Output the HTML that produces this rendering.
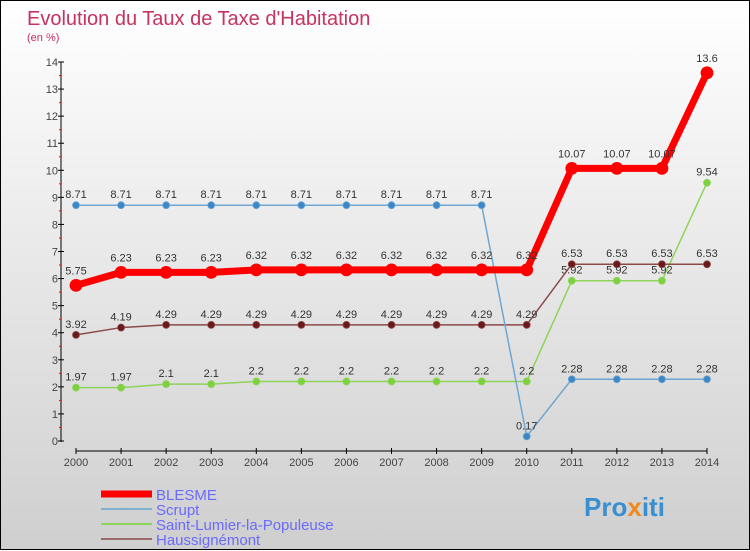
<!DOCTYPE html>
<html><head><meta charset="utf-8"><style>
html,body{margin:0;padding:0}
body{width:750px;height:550px;overflow:hidden;font-family:"Liberation Sans",sans-serif}
#wrap{position:relative;width:748px;height:548px;border:1px solid #000;background:linear-gradient(#ffffff,#cfcfcf)}
svg{position:absolute;left:0;top:0}
</style></head><body>
<div id="wrap">
<svg id="chart" width="750" height="550">
<text x="26" y="24" font-size="20" fill="#c8325f">Evolution du Taux de Taxe d'Habitation</text>
<text x="26" y="40" font-size="11" fill="#c8325f">(en %)</text>
<g id="axes"></g>
<g id="series"></g>
<g id="legend"></g>
<text x="583" y="515" font-size="26" font-weight="bold" fill="#3a8fd0">Pro<tspan fill="#f08a1c">x</tspan>iti</text>
</svg>
</div>
<script>
const years=[2000,2001,2002,2003,2004,2005,2006,2007,2008,2009,2010,2011,2012,2013,2014];
const blesme=[5.75,6.23,6.23,6.23,6.32,6.32,6.32,6.32,6.32,6.32,6.32,10.07,10.07,10.07,13.6];
const scrupt=[8.71,8.71,8.71,8.71,8.71,8.71,8.71,8.71,8.71,8.71,0.17,2.28,2.28,2.28,2.28];
const saint=[1.97,1.97,2.1,2.1,2.2,2.2,2.2,2.2,2.2,2.2,2.2,5.92,5.92,5.92,9.54];
const hauss=[3.92,4.19,4.29,4.29,4.29,4.29,4.29,4.29,4.29,4.29,4.29,6.53,6.53,6.53,6.53];
const yTicks=[0,1,2,3,4,5,6,7,8,9,10,11,12,13,14];
const seriesNames=["BLESME","Scrupt","Saint-Lumier-la-Populeuse","Haussignémont"];
const NS="http://www.w3.org/2000/svg";
const xS=v=>75+(v-2000)*(706-75)/14;
const yS=v=>440-v*(440-61)/14;
function mk(tag,attrs,parent,txt){const e=document.createElementNS(NS,tag);for(const k in attrs)e.setAttribute(k,attrs[k]);if(txt!==undefined)e.textContent=txt;parent.appendChild(e);return e;}
const axes=document.getElementById('axes');
let yl=mk('line',{x1:60,y1:yS(14),x2:60,y2:yS(0)+1,stroke:'#000'},axes);


let xl=mk('line',{x1:75,y1:450,x2:706,y2:450,stroke:'#000'},axes);


yTicks.forEach(t=>{
 mk('line',{x1:57,x2:63,y1:yS(t),y2:yS(t),stroke:'#000'},axes);
 if(t<14)mk('line',{x1:58,x2:60,y1:yS(t+0.5),y2:yS(t+0.5),stroke:'#f00'},axes);
 let tx=mk('text',{x:57,y:yS(t)+4,'font-size':11,'text-anchor':'end',fill:'#444'},axes,String(t));
 
 
});
years.forEach(y=>{
 mk('line',{x1:xS(y),x2:xS(y),y1:447,y2:453,stroke:'#000'},axes);
 let tx=mk('text',{x:xS(y),y:465,'font-size':11,'text-anchor':'middle',fill:'#444'},axes,String(y));
 
 
});
const sg=document.getElementById('series');
function drawSeries(vals,color,dot,w,r,name,lblOff){
 const g=mk('g',{},sg);
 
 
 mk('polyline',{points:vals.map((v,i)=>xS(years[i])+','+yS(v)).join(' '),fill:'none',stroke:color,'stroke-width':w,'stroke-linejoin':'round'},g);
 vals.forEach((v,i)=>{
  let c=mk('circle',{cx:xS(years[i]),cy:yS(v),r:r,fill:dot,stroke:color,'stroke-width':0.8},g);
  
  
  let t=mk('text',{x:xS(years[i]),y:yS(v)+lblOff,'font-size':11,'text-anchor':'middle',fill:'#333'},g,String(v));
  
  
 });
}
drawSeries(saint,'#8dd45a','#7ed13e',1.5,3.5,'saint-lumier-series',-7);
drawSeries(hauss,'#8a4a4a','#6a1a1a',1.5,3.5,'haussignemont-series',-7);
drawSeries(scrupt,'#6fa7d2','#3d87c7',1.5,3.5,'scrupt-series',-7);
drawSeries(blesme,'#f00','#f00',7,6,'blesme-series',-11);
const lg=document.getElementById('legend');
const lc=['#f00','#7fb0d0','#8dd45a','#9a6a6a'],lw=[7,2,2,2];
seriesNames.forEach((n,i)=>{
 const y=493+i*15;
 const g=mk('g',{},lg);
 
 
 mk('line',{x1:100,x2:151,y1:y,y2:y,stroke:lc[i],'stroke-width':lw[i]},g);
 mk('text',{x:155,y:y+6,'font-size':15,fill:'#6a6aff'},g,n);
});
</script>
</body></html>
